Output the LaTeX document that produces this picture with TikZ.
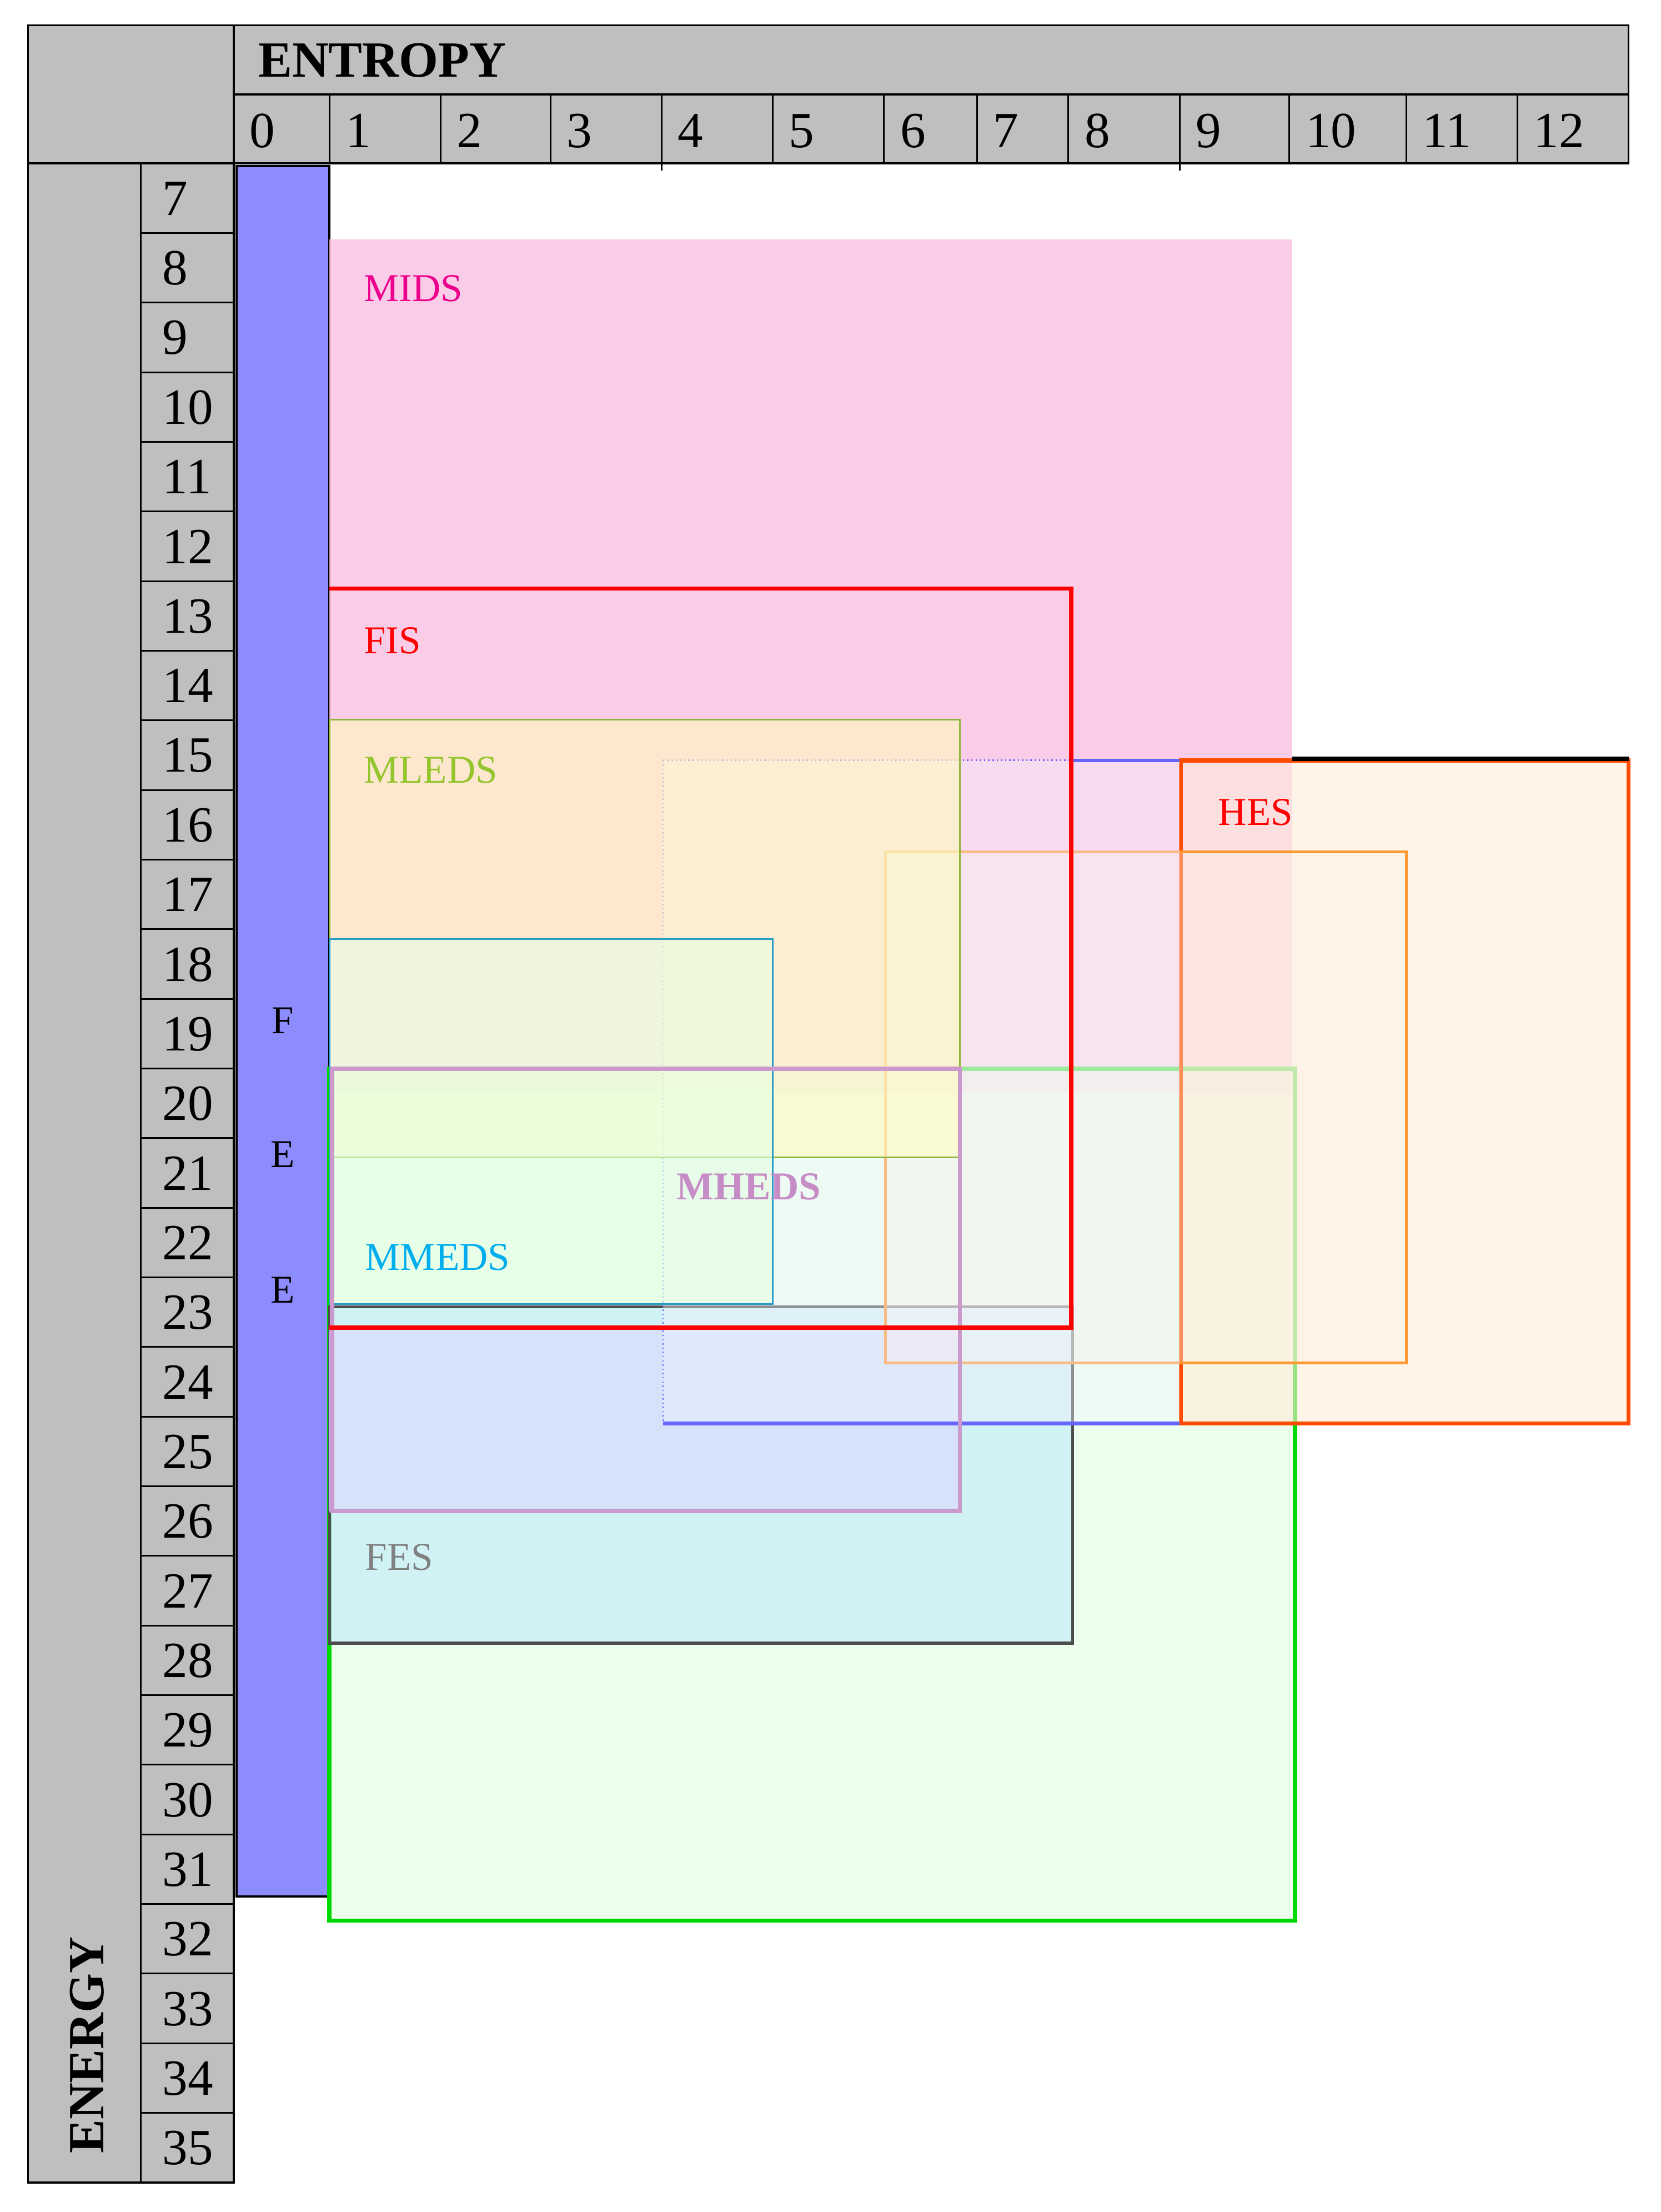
\documentclass[tikz,border=0pt]{standalone}
\usepackage{fontspec}
\setmainfont{Liberation Serif}
\begin{document}
\begin{tikzpicture}[x=1pt,y=-1pt,
  cell/.style={anchor=west,font=\fontsize{36}{36}\selectfont},
  lab/.style={anchor=west,font=\fontsize{28}{28}\selectfont},
  zone/.style={line width=3pt}]
\useasboundingbox (0,0) rectangle (1180,1571);
% headers
\fill[gray!50] (20,18) rectangle (1157,116);
\fill[gray!50] (20,116) rectangle (166,1550);
\draw[line width=1.4pt] (20,18) rectangle (1157,116);
\draw[line width=1.4pt] (166,18) -- (166,116) (166,67) -- (1157,67);
\draw[line width=1.4pt] (20,116) -- (20,1550) -- (166,1550) -- (166,116);
\draw[line width=1.2pt] (100,116) -- (100,1550);
\node[anchor=west,font=\fontsize{36}{36}\selectfont\bfseries] (entropy) at (180,43) {ENTROPY};
\foreach \a/\b/\t [count=\i] in {166/234/0,234/313/1,313/391/2,391/470/3,470/549/4,549/628/5,628/694/6,694/759/7,759/838/8,838/916/9,916/999/10,999/1078/11,1078/1157/12}{
  \draw[line width=1.2pt] (\b,67) -- (\b,116);
  \node[cell] (c\i) at (\a+8,93) {\t};
}
\draw[line width=1.2pt] (470,116) -- (470,121) (838,116) -- (838,121);
\foreach \n [count=\i from 0] in {7,...,35}{
  \pgfmathsetmacro{\yy}{116+\i*49.45}
  \draw[line width=1.2pt] (100,\yy) -- (166,\yy);
  \node[cell] (r\n) at (112,\yy+25) {\n};
}
\node[rotate=90,anchor=west,font=\fontsize{36}{36}\selectfont\bfseries] (energy) at (62,1533) {ENERGY};
% FEE column
\draw[fill=blue!45!white,line width=1.5pt] (168,118) rectangle (234,1347);
\node[lab,anchor=center] (f1) at (201,725) {F};
\node[lab,anchor=center] (f2) at (201,820) {E};
\node[lab,anchor=center] (f3) at (201,916) {E};
% zones
\fill[magenta!25,opacity=0.8] (234,170) rectangle (918,776);
\draw[green!85!black,fill=green!12,fill opacity=0.6,zone] (234,759) rectangle (920,1364);
\draw[black!70,fill=cyan!25,fill opacity=0.6,line width=2pt] (234,928) rectangle (762,1167);
\draw[blue!30,fill=blue!15,fill opacity=0.6,line width=1pt] (234,943) rectangle (682,1073);
\draw[orange!60!red,fill=orange!15,fill opacity=0.6,zone] (839,540) rectangle (1157,1011);
\draw[black,line width=3pt] (918,539) -- (1157,539);
\draw[orange!80,fill=orange!10,fill opacity=0.4,line width=2pt] (629,605) rectangle (999,968);
\fill[blue!5,opacity=0.4] (471,540) rectangle (838,1011);
\draw[blue!60,dotted,line width=1pt] (471,540) -- (761,540) (471,540) -- (471,1011);
\draw[blue!60,line width=2.5pt] (761,540) -- (838,540) (471,1011) -- (838,1011);
\draw[yellow!60!green!80!black,fill=yellow!25,fill opacity=0.6,line width=1.2pt] (234,511) rectangle (682,822);
\draw[cyan!80!black,fill=green!10,fill opacity=0.6,line width=1.2pt] (234,667) rectangle (549,926);
\draw[violet!40,line width=3pt] (236,759) rectangle (682,1073);
\draw[red,line width=3pt] (234,418) -- (761,418) -- (761,943) -- (234,943);
% labels
\node[lab,text=magenta] (mids) at (255,205) {MIDS};
\node[lab,text=red] (fis) at (255,455) {FIS};
\node[lab,text=yellow!60!green!90!black] (mleds) at (255,547) {MLEDS};
\node[lab,text=red] (hes) at (862,577) {HES};
\node[lab,text=violet!45,font=\fontsize{28}{28}\selectfont\bfseries] (mheds) at (477,843) {MHEDS};
\node[lab,text=cyan] (mmeds) at (256,893) {MMEDS};
\node[lab,text=gray] (fes) at (256,1106) {FES};
\end{tikzpicture}
\end{document}
